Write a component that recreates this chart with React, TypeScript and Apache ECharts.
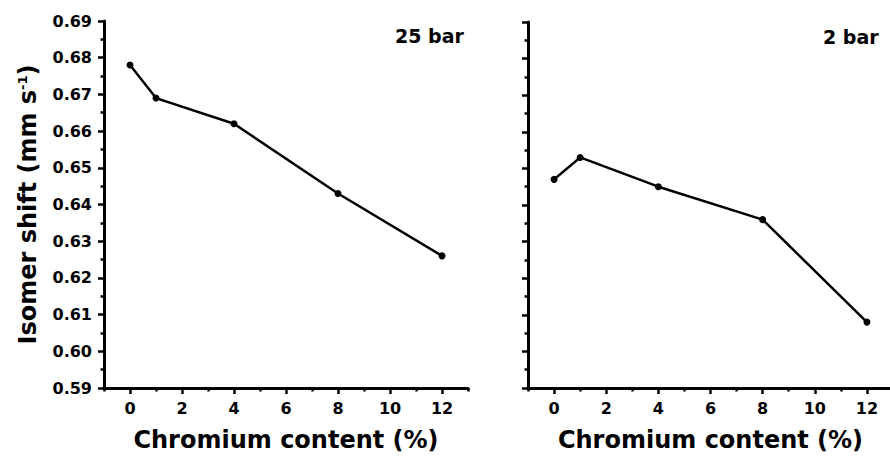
import React, { useEffect, useRef } from "react";
import * as echarts from "echarts";

const chromium = [0, 1, 4, 8, 12];
const shift25bar = [0.678, 0.669, 0.662, 0.643, 0.626];
const shift2bar = [0.647, 0.653, 0.645, 0.636, 0.608];
const majorXTicks = [0, 2, 4, 6, 8, 10, 12];
const minorXTicks = [-1, 1, 3, 5, 7, 9, 11, 13];
const panelLabels = ["25 bar", "2 bar"];

const FONT = "DejaVu Sans";

export default function App() {
  const ref = useRef<HTMLDivElement>(null);
  useEffect(() => {
    if (!ref.current) return;
    const chart = echarts.init(ref.current, null, { renderer: "svg" });
    const axisLine = { show: true, onZero: false, lineStyle: { color: "#000", width: 3 } };
    const mainX = (gridIndex: number) => ({
      type: "value",
      gridIndex,
      min: -1,
      max: 13,
      position: "bottom",
      name: "Chromium content (%)",
      nameLocation: "middle",
      nameGap: 40,
      nameTextStyle: { fontFamily: FONT, fontWeight: "bold", fontSize: 24, color: "#000" },
      axisLine,
      axisTick: { show: true, customValues: majorXTicks, length: 6, lineStyle: { color: "#000", width: 2.5 } },
      axisLabel: {
        customValues: majorXTicks,
        margin: 12,
        fontFamily: FONT,
        fontWeight: "bold",
        fontSize: 16,
        color: "#000",
      },
      splitLine: { show: false },
    });
    const minorX = (gridIndex: number) => ({
      type: "value",
      gridIndex,
      min: -1,
      max: 13,
      position: "bottom",
      axisLine: { show: false },
      axisTick: { show: true, customValues: minorXTicks, length: 3.5, lineStyle: { color: "#000", width: 2.5 } },
      axisLabel: { show: false },
      splitLine: { show: false },
    });
    const yAx = (gridIndex: number, labels: boolean) => ({
      type: "value",
      gridIndex,
      min: 0.59,
      max: 0.69,
      interval: 0.01,
      name: labels ? "Isomer shift (mm s{sup|-1})" : "",
      nameLocation: "middle",
      nameGap: 64,
      nameTextStyle: {
        fontFamily: FONT,
        fontWeight: "bold",
        fontSize: 24,
        color: "#000",
        rich: {
          sup: { fontFamily: FONT, fontWeight: "bold", fontSize: 13, color: "#000", verticalAlign: "top", padding: [0, 0, 10, 0] },
        },
      },
      axisLine,
      axisTick: { show: true, length: 6, lineStyle: { color: "#000", width: 2.5 } },
      minorTick: { show: true, splitNumber: 2, length: 3.5, lineStyle: { color: "#000", width: 2.5 } },
      axisLabel: {
        show: labels,
        margin: 12,
        fontFamily: FONT,
        fontWeight: "bold",
        fontSize: 16,
        color: "#000",
        formatter: (v: number) => v.toFixed(2),
      },
      splitLine: { show: false },
      minorSplitLine: { show: false },
    });
    const series = (data: number[], xi: number, yi: number) => ({
      type: "line",
      xAxisIndex: xi,
      yAxisIndex: yi,
      data: chromium.map((c, i) => [c, data[i]]),
      symbol: "circle",
      symbolSize: 7,
      lineStyle: { color: "#000", width: 2.5 },
      itemStyle: { color: "#000" },
    });
    chart.setOption({
      animation: false,
      backgroundColor: "#fff",
      grid: [
        { left: 104, top: 21, width: 364, height: 367, containLabel: false, outerBoundsMode: "none" },
        { left: 528, top: 22, width: 365, height: 366, containLabel: false, outerBoundsMode: "none" },
      ],
      title: [
        { text: panelLabels[0], left: 395, top: 26, padding: 0, textStyle: { fontFamily: FONT, fontWeight: "bold", fontSize: 19, color: "#000" } },
        { text: panelLabels[1], left: 823, top: 27, padding: 0, textStyle: { fontFamily: FONT, fontWeight: "bold", fontSize: 19, color: "#000" } },
      ],
      xAxis: [mainX(0), minorX(0), mainX(1), minorX(1)],
      yAxis: [yAx(0, true), yAx(1, false)],
      series: [series(shift25bar, 0, 0), series(shift2bar, 2, 1)],
    });
    return () => chart.dispose();
  }, []);
  return (
    <div
      ref={ref}
      style={{ position: "fixed", left: 0, top: 0, width: 890, height: 462, background: "#fff" }}
    />
  );
}
